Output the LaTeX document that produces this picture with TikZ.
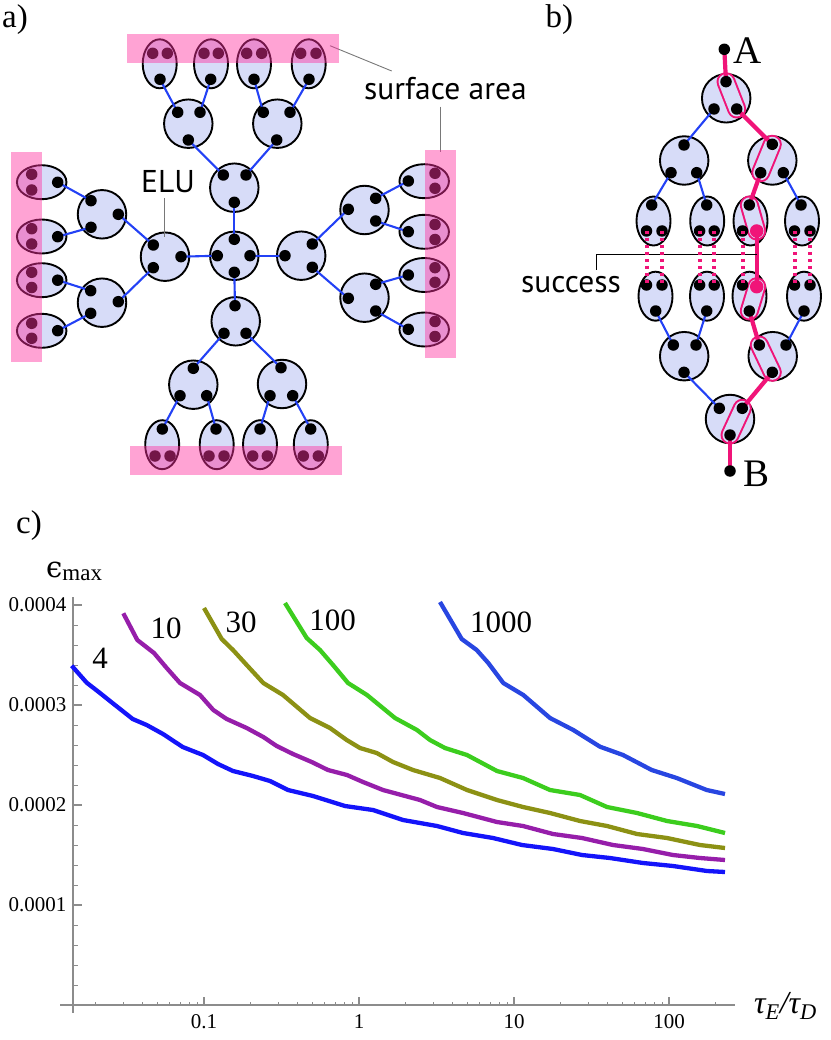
\documentclass[tikz,border=0pt]{standalone}
\usepackage{fontspec}
\setmainfont{Liberation Serif}
\newfontfamily\sansf{PT Sans}
\newfontfamily\dvs{DejaVu Serif}
\usetikzlibrary{shapes.geometric}
\definecolor{lav}{RGB}{215,220,248}
\definecolor{lnblue}{RGB}{35,65,245}
\definecolor{pbar}{RGB}{255,50,160}
\definecolor{hot}{RGB}{240,20,120}
\definecolor{axg}{RGB}{140,140,140}
\definecolor{ptr}{RGB}{120,120,120}
\definecolor{cA}{RGB}{20,20,250}
\definecolor{cB}{RGB}{150,30,170}
\definecolor{cC}{RGB}{140,145,20}
\definecolor{cD}{RGB}{60,205,30}
\definecolor{cE}{RGB}{40,70,225}
\pgfdeclarelayer{bg}\pgfdeclarelayer{mid}\pgfdeclarelayer{top}
\pgfsetlayers{bg,mid,main,top}
\begin{document}
\begin{tikzpicture}[x=1pt,y=-1pt,
 cell/.style={circle,draw=black,fill=lav,line width=1.9pt,minimum size=48.5pt,inner sep=0pt},
 vell/.style={ellipse,draw=black,fill=lav,line width=1.9pt,minimum width=34pt,minimum height=49pt,inner sep=0pt},
 hell/.style={ellipse,draw=black,fill=lav,line width=1.9pt,minimum width=49.5pt,minimum height=34pt,inner sep=0pt},
 blk/.style={circle,fill=black,minimum size=11.5pt,inner sep=0pt},
 pdot/.style={circle,fill=hot,minimum size=13.5pt,inner sep=0pt},
 conn/.style={draw=lnblue,line width=2.1pt},
 hotline/.style={draw=hot,line width=4.2pt},
 hotdots/.style={draw=hot,line width=4pt,dash pattern=on 3.5pt off 3.5pt},
 bar/.style={fill=pbar,opacity=0.45},
 ptrline/.style={draw=ptr,line width=0.9pt},
 curve/.style={line width=4.3pt,line join=round},
 lbl/.style={font=\fontsize{31}{32}\selectfont,inner sep=0pt},
 plbl/.style={font=\fontsize{33}{34}\selectfont,inner sep=0pt,anchor=base west},
 tk/.style={font=\fontsize{21}{22}\selectfont,inner sep=0pt},
 sl/.style={font=\sansf\fontsize{31.5}{32}\selectfont,inner sep=0pt,anchor=base west}
]
\useasboundingbox (0,0) rectangle (830,1040);

% ================= panel a =================
\begin{pgfonlayer}{bg}
\foreach \n/\x/\y in {ca0/234.3/255.8, caT/234.3/187.7, caL/165/256.7, caR/301.2/255.7, caB/235.7/321.3,
  caTL/188.3/123.7, caTR/277.3/123.7, caLU/102/214.3, caLD/102/302.7, caRU/364.5/210, caRD/364.5/297.7,
  caBL/193.3/384.7, caBR/282/384}
  \node[cell] (\n) at (\x,\y) {};
\foreach \n/\x/\y in {eT1/159.7/63.8, eT2/211/63.8, eT3/254/63.8, eT4/308.7/63.8,
  eB1/162.2/444.7, eB2/216.7/444.7, eB3/260/444.7, eB4/310.8/444.7}
  \node[vell] (\n) at (\x,\y) {};
\foreach \n/\x/\y in {eL1/41.7/182.2, eL2/41.7/236.5, eL3/41.7/280.2, eL4/41.7/330.8,
  eR1/424.2/181.2, eR2/424.2/231.8, eR3/424.2/275, eR4/424.2/329.5}
  \node[hell] (\n) at (\x,\y) {};
\end{pgfonlayer}

\foreach \n/\x/\y in {c0t/234.3/239.3, c0l/217.3/255.7, c0r/250/255.7, c0b/234.3/272.3,
 Ta/223.3/175, Tb/246/175, Tc/234.3/202.3,
 TLa/177.7/112.3, TLb/200/112.3, TLc/188.3/140,
 TRa/263.3/112.3, TRb/290/112.3, TRc/276.7/140,
 eT1b/160/79.3, eT1x/152.7/53.3, eT1y/167.3/53.3,
 eT2b/210.7/79.3, eT2x/204/53.3, eT2y/218.3/53.3,
 eT3b/254/79.3, eT3x/246.7/53.3, eT3y/261.7/53.3,
 eT4b/309/79.3, eT4x/300.7/53.3, eT4y/316/53.3,
 La/153.3/245, Lb/153.3/267.7, Lc/181/256.7,
 LUa/91/200.7, LUb/91/227.3, LUc/118.3/214.3,
 LDa/90.7/290.7, LDb/90.7/313.3, LDc/118.3/301.7,
 eL1b/57.7/182.3, eL1x/31.7/174.3, eL1y/31.7/190,
 eL2b/57.7/236.7, eL2x/31.7/228.7, eL2y/31.7/244,
 eL3b/57.7/280.2, eL3x/31.7/272.3, eL3y/31.7/287.5,
 eL4b/57.7/330.7, eL4x/31.7/323.3, eL4y/31.7/338.3,
 Ra/285/255.7, Rb/312.3/244, Rc/312.3/267.3,
 RUa/348.3/209.3, RUb/375.7/198.3, RUc/375.7/221,
 RDa/348.3/298.3, RDb/375.7/284.3, RDc/375.7/311,
 eR1b/408.3/181, eR1x/435/173.3, eR1y/435/188.3,
 eR2b/408.3/231.7, eR2x/435/224.5, eR2y/435/239.5,
 eR3b/408.3/275, eR3x/435/267.7, eR3y/435/282.3,
 eR4b/408.3/329.3, eR4x/435/321.5, eR4y/435/336.5,
 Ba/235/305.7, Bb/224/333.3, Bc/246/333.3,
 BLa/193.3/368.3, BLb/180/395.7, BLc/206.7/395.7,
 BRa/281/367.7, BRb/270/395.7, BRc/292.7/395.7,
 eB1b/162.3/429, eB1x/155/456, eB1y/170/456,
 eB2b/216/429, eB2x/209/456, eB2y/224/456,
 eB3b/260/429, eB3x/252.7/456, eB3y/267.3/456,
 eB4b/310.7/429, eB4x/303.3/456, eB4y/318.3/456}
 \node[blk] (\n) at (\x,\y) {};

\begin{pgfonlayer}{mid}
\foreach \a/\b in {c0t/Tc, Ta/TLc, Tb/TRc, TLa/eT1b, TLb/eT2b, TRa/eT3b, TRb/eT4b,
  c0l/Lc, La/LUc, Lb/LDc, LUa/eL1b, LUb/eL2b, LDa/eL3b, LDb/eL4b,
  c0r/Ra, Rb/RUa, Rc/RDa, RUb/eR1b, RUc/eR2b, RDb/eR3b, RDc/eR4b,
  c0b/Ba, Bb/BLa, Bc/BRa, BLb/eB1b, BLc/eB2b, BRb/eB3b, BRc/eB4b}
  \draw[conn] (\a.center) -- (\b.center);
\end{pgfonlayer}

\begin{pgfonlayer}{top}
\fill[bar] (127,34) rectangle (339,63);
\fill[bar] (11,152.3) rectangle (41.7,361.7);
\fill[bar] (425,150) rectangle (455.7,358.3);
\fill[bar] (130,445.7) rectangle (342.3,475);
\end{pgfonlayer}

\node[plbl] (la) at (2,28) {a)};
\node[sl] (surf) at (364,100) {surface area};
\node[sl] (elu) at (141,193) {ELU};
\coordinate (sa1) at (330,45.7);
\coordinate (sa2) at (440.7,151.7);
\coordinate (elu1) at (164,236.7);
\draw[ptrline] (sa1) -- (391.7,71);
\draw[ptrline] (440.7,106.7) -- (sa2);
\draw[ptrline] (164,198) -- (elu1);

% ================= panel b =================
\node[plbl] (lb) at (545.5,28) {b)};
\begin{pgfonlayer}{bg}
\foreach \n/\x/\y in {bT/726.2/98.3, bL1/684.2/160.5, bR1/772.3/160.5, bL2/684.2/356.2, bR2/772.7/356.2, bB/730/419}
  \node[cell] (\n) at (\x,\y) {};
\foreach \n/\x/\y in {bu1/653.5/221, bu2/707.2/221, bu3/750.5/221, bu4/802/221,
  bl1/655.5/296.2, bl2/707/296.2, bl3/749.5/296.2, bl4/804/296.2}
  \node[vell] (\n) at (\x,\y) {};
\end{pgfonlayer}

\foreach \n/\x/\y in {pA/724.3/49.3, pB/730/471,
 bTt/726/81.7, bTl/714/109, bTr/736.7/109,
 bL1t/684/145, bL1l/671/172.7, bL1r/696.7/172.7,
 bR1t/772.3/144.3, bR1l/760.7/172.7, bR1r/783.3/172.7,
 bu1t/651.7/205, bu1l/646.5/231, bu1r/662/231,
 bu2t/706.7/205, bu2l/699.6/231, bu2r/714.2/231,
 bu3t/749.3/205, bu3l/742.5/231,
 bu4t/801/205, bu4l/794.5/231, bu4r/810/231,
 bl1l/646.5/285, bl1r/662/285, bl1b/655.7/311,
 bl2l/699.6/285, bl2r/714.2/285, bl2b/706.7/311,
 bl3l/742.5/285, bl3b/749.3/311,
 bl4l/794.5/285, bl4r/810/285, bl4b/804/311,
 bL2l/673.3/345, bL2r/696/345, bL2b/684/372.3,
 bR2l/759.3/345, bR2r/786/345, bR2b/772.3/372.3,
 bBl/719.3/408.3, bBr/742.3/408.3, bBb/730/435}
 \node[blk] (\n) at (\x,\y) {};

\begin{pgfonlayer}{top}
\node[pdot] (bu3p) at (756.7,231) {};
\node[pdot] (bl3p) at (756.7,286.7) {};
\end{pgfonlayer}

% capsules
\begin{pgfonlayer}{bg}
\foreach \a/\b in {bTt/bTr, bR1t/bR1l, bu3t/bu3p, bl3p/bl3b, bR2l/bR2b, bBr/bBb}{
  \draw[hot,line width=19pt,line cap=round] (\a.center) -- (\b.center);
  \draw[lav,line width=15pt,line cap=round] (\a.center) -- (\b.center);
}
\end{pgfonlayer}

\begin{pgfonlayer}{mid}
\foreach \a/\b in {bTl/bL1t, bL1l/bu1t, bL1r/bu2t, bR1r/bu4t, bl1b/bL2l, bl2b/bL2r, bl4b/bR2r, bL2b/bBl}
  \draw[conn] (\a.center) -- (\b.center);
\foreach \a/\b in {pA/bTt, bTr/bR1t, bR1l/bu3t, bu3p/bl3p, bl3b/bR2l, bR2b/bBr, bBb/pB}
  \draw[hotline] (\a.center) -- (\b.center);
\end{pgfonlayer}

\begin{pgfonlayer}{top}
\foreach \a/\b in {bu1l/bl1l, bu1r/bl1r, bu2l/bl2l, bu2r/bl2r, bu3l/bl3l, bu4l/bl4l, bu4r/bl4r}
  \draw[hotdots] (\a.center) -- (\b.center);
\end{pgfonlayer}

\node[font=\fontsize{39}{39}\selectfont,inner sep=0pt,anchor=base west] (tA) at (733,64) {A};
\node[font=\fontsize{39}{39}\selectfont,inner sep=0pt,anchor=base west] (tB) at (743,486) {B};
\node[sl] (succ) at (521,293) {success};
\coordinate (sk0) at (596.7,270);
\coordinate (sj) at (756.7,254.3);
\draw[black,line width=1pt] (sk0) |- (sj);

% ================= panel c =================
\node[plbl] (lc) at (16,533) {c)};
% axes
\draw[axg,line width=1.3pt] (73,597) -- (73,1013);
\draw[axg,line width=1.3pt] (60,1005) -- (735,1005);
\foreach \k in {1,...,20}{
  \pgfmathsetmacro{\yy}{1005-20*\k}
  \draw[axg,line width=0.9pt] (73,\yy) -- (78,\yy);
}
\foreach \k in {5,10,15,20}{
  \pgfmathsetmacro{\yy}{1005-20*\k}
  \draw[axg,line width=1.1pt] (73,\yy) -- (81.5,\yy);
}
\foreach \d in {-2,-1,0,1,2}{
  \foreach \m in {2,...,9}{
    \pgfmathsetmacro{\xx}{359+155*(\d+log10(\m))}
    \pgfmathparse{\xx<735 && \xx>73 ? 1 : 0}
    \ifnum\pgfmathresult=1 \draw[axg,line width=0.8pt] (\xx,1005) -- (\xx,1001.5);\fi
  }
}
\foreach \d in {-1,0,1,2}{
  \pgfmathsetmacro{\xx}{359+155*\d}
  \draw[axg,line width=1.1pt] (\xx,1005) -- (\xx,997);
}
\node[tk,anchor=east] (y4) at (66.5,604.5) {0.0004};
\node[tk,anchor=east] (y3) at (66.5,704.5) {0.0003};
\node[tk,anchor=east] (y2) at (66.5,805) {0.0002};
\node[tk,anchor=east] (y1) at (66.5,905) {0.0001};
\node[tk] (x1) at (204,1021.5) {0.1};
\node[tk] (x2) at (359,1021.5) {1};
\node[tk] (x3) at (514,1021.5) {10};
\node[tk] (x4) at (669,1021.5) {100};
\node[inner sep=0pt,anchor=base west] (ylab) at (46,577) {\dvs\fontsize{29}{29}\selectfont ϵ\raisebox{-3pt}{\rmfamily\fontsize{23}{23}\selectfont max}};
\node[inner sep=0pt,anchor=base west] (xlab) at (754,1013) {\fontsize{32}{32}\selectfont\itshape τ\textsubscript{E}/τ\textsubscript{D}};

\draw[curve,cA] plot coordinates {(71.7,665.7) (86.7,682.7) (100,693) (115,705) (132.7,719) (146.7,725) (163,734) (182.7,747) (203,755) (218,764) (233,771) (253,776) (270,781) (288,790) (313,796) (345,806) (373,810) (403,820) (437,826) (463,833) (493,838) (522,845) (553,849) (582,855) (610,858) (643,863) (673,866) (707,871) (725,872)};
\draw[curve,cB] plot coordinates {(123.3,613.3) (137.3,640) (154,653) (166.7,668) (180,683) (200,695) (213.3,710) (226.7,719) (246.7,728) (263.3,737) (276.7,746) (293,754) (311.7,762) (328,770) (347,775) (363,782) (383,790) (420,800) (437,807) (463,813) (497,822) (523,826) (553,834) (582,838) (613,845) (643,849) (673,855) (700,858) (725,860)};
\draw[curve,cC] plot coordinates {(204,608) (221.7,639) (233,650) (246.7,665) (263.3,683) (283,695) (310,718) (330,728) (346.7,740) (360,748) (376.7,753) (393,762) (413,770) (440,778) (467,790) (497,800) (523,807) (550,813) (580,821) (607,826) (637,834) (667,838) (700,845) (725,848)};
\draw[curve,cD] plot coordinates {(285,603) (306.7,638) (320,650) (333,665) (348,683) (367,695) (395,718) (417,730) (430,740) (445,748) (467,755) (497,771) (523,778) (550,790) (580,795) (607,807) (637,813) (667,821) (697,826) (725,833)};
\draw[curve,cE] plot coordinates {(440,602) (461.7,639) (476.7,650) (488.3,663) (503.3,683) (523.3,695) (550,718) (573.3,730) (600,746.7) (623,755) (651.7,770) (676.7,778) (706.7,790) (725,794)};

\node[lbl] (l4) at (100,658) {4};
\node[lbl] (l10) at (166,628) {10};
\node[lbl] (l30) at (241,622) {30};
\node[lbl] (l100) at (332.5,620) {100};
\node[lbl] (l1000) at (501,622) {1000};
\end{tikzpicture}
\end{document}
